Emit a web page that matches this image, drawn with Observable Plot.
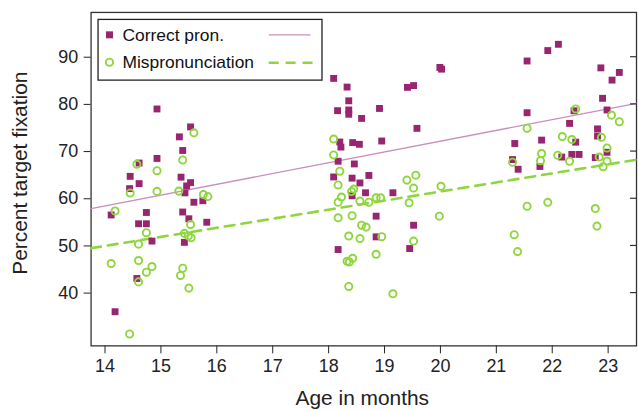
<!DOCTYPE html>
<html><head><meta charset="utf-8">
<script src="https://cdn.jsdelivr.net/npm/d3@7"></script>
<script src="https://cdn.jsdelivr.net/npm/@observablehq/plot@0.6"></script>
<style>
html,body{margin:0;padding:0;background:#fff;overflow:hidden;}
#chart{position:relative;width:639px;height:412px;overflow:hidden;}
</style></head><body><div id="chart"></div>
<script>
// Correct pronunciation (purple squares)
const correctAge = [14.93,15.53,15.33,15.39,14.61,14.93,14.45,14.61,14.44,15.36,15.53,15.46,15.43,15.59,15.75,14.11,14.74,15.39,15.50,14.60,14.74,15.82,14.84,15.42,14.57,14.18,
  18.09,18.33,18.36,18.16,18.36,18.36,18.59,18.91,19.41,19.52,19.99,20.02,19.58,18.20,18.22,18.43,18.55,18.95,18.17,18.46,18.09,18.42,18.72,18.56,18.42,18.66,19.15,18.85,19.52,18.85,18.17,19.45,
  22.11,21.92,21.55,22.87,23.20,23.07,22.90,22.98,21.55,22.39,22.31,22.81,22.81,21.81,22.42,21.33,22.98,21.29,21.39,21.78,22.17,22.35,22.48,22.77];
const correctPct = [79.03,75.23,73.12,70.23,67.57,68.54,64.75,63.21,62.15,64.58,63.42,62.72,61.25,59.26,59.58,56.56,57.09,57.19,55.76,54.70,54.70,55.02,51.03,50.76,43.10,36.06,
  85.51,83.67,80.76,78.67,78.82,77.91,77.03,79.14,83.61,83.99,87.83,87.47,74.92,72.03,70.95,71.90,71.54,72.24,67.95,67.38,64.62,64.37,64.94,63.35,60.63,61.27,61.27,56.31,54.39,51.92,49.24,49.45,
  92.74,91.41,89.20,87.74,86.77,85.15,81.29,78.82,78.23,78.65,75.97,74.81,73.29,72.43,72.00,71.71,69.85,68.31,66.25,66.84,68.84,69.39,69.39,68.73];
// Mispronunciation (green open circles)
const misAge = [15.59,15.39,14.57,14.93,14.45,14.93,15.32,15.76,15.84,14.18,15.53,14.74,15.42,15.49,15.54,14.60,14.11,14.60,14.84,14.74,14.60,15.39,15.35,15.50,14.44,
  18.09,18.09,18.20,19.56,19.40,18.17,18.45,18.41,19.52,20.01,18.23,18.17,18.56,18.72,18.85,18.93,19.44,18.17,18.42,18.59,18.67,18.36,18.56,18.95,19.52,19.98,18.33,18.37,18.43,18.85,18.36,19.15,
  22.42,23.06,23.20,21.55,22.18,22.35,22.88,22.98,21.81,22.10,21.79,22.31,21.29,22.84,22.98,22.91,21.55,21.92,22.77,22.80,21.32,21.38];
const misPct = [73.97,68.23,67.30,65.95,61.20,61.56,61.62,60.89,60.46,57.41,54.56,52.81,52.66,52.13,51.75,50.38,46.27,46.90,45.63,44.43,42.38,45.27,43.74,41.06,31.35,
  72.66,69.28,65.84,65.00,63.95,62.93,62.05,61.52,62.26,62.64,60.36,59.26,59.51,59.26,60.21,60.21,59.14,55.97,56.41,54.39,53.99,52.09,51.56,51.96,51.03,56.31,46.75,46.58,47.38,48.23,41.41,39.85,
  79.03,77.72,76.33,74.96,73.19,72.55,73.02,70.76,69.58,69.22,68.06,67.95,67.74,68.84,68.00,66.79,58.42,59.24,57.93,54.20,52.38,48.80];
// Fitted lines (at the plot edges)
const fitAge = [13.75, 23.51];
const correctFit = [57.91, 80.24];
const misFit = [49.52, 68.28];
const xTicks = [14,15,16,17,18,19,20,21,22,23];
const yTicks = [40,50,60,70,80,90];
const seriesLabels = ["Correct pron.", "Mispronunciation"];
const xTitle = "Age in months";
const yTitle = "Percent target fixation";

const purple = "#982570", green = "#8fd63e", linePurple = "#c98fbb";
const font = "'Liberation Sans', Arial, Helvetica, sans-serif";

const correct = correctAge.map((a, i) => ({age: a, pct: correctPct[i]}));
const mis = misAge.map((a, i) => ({age: a, pct: misPct[i]}));
const fitC = fitAge.map((a, i) => ({age: a, pct: correctFit[i]}));
const fitM = fitAge.map((a, i) => ({age: a, pct: misFit[i]}));

const plot = Plot.plot({
  width: 642, height: 412,
  marginLeft: 91, marginRight: 3, marginTop: 12, marginBottom: 65,
  style: {fontFamily: font, fontSize: "18px", color: "#222", background: "#fff", overflow: "visible"},
  x: {domain: [13.7508, 23.5074], ticks: xTicks, tickSize: 8, tickPadding: 5, label: null},
  y: {domain: [28.82, 99.49], ticks: yTicks, tickSize: 7, tickPadding: 6, label: null},
  marks: [
    Plot.frame({stroke: "#333", strokeWidth: 1.3}),
    Plot.line(fitC, {x: "age", y: "pct", stroke: linePurple, strokeWidth: 1.3}),
    Plot.line(fitM, {x: "age", y: "pct", stroke: green, strokeWidth: 2.6, strokeDasharray: "10,7"}),
    Plot.dot(correct, {x: "age", y: "pct", symbol: "square", r: 3.9, fill: purple, stroke: "none"}),
    Plot.dot(mis, {x: "age", y: "pct", r: 3.6, stroke: green, strokeWidth: 1.9, fill: "none"})
  ]
});

const svg = d3.select(plot);
const ys = plot.scale("y");
// right-side ticks
svg.append("g").selectAll("line").data(yTicks).join("line")
  .attr("x1", 633).attr("x2", 640)
  .attr("y1", d => ys.apply(d)).attr("y2", d => ys.apply(d))
  .attr("stroke", "#333").attr("stroke-width", 1.2);

// axis titles
svg.append("text").text(xTitle)
  .attr("x", 364).attr("y", 407).attr("text-anchor", "middle")
  .attr("font-family", font).attr("font-size", 21).attr("fill", "#222");
svg.append("text").text(yTitle)
  .attr("transform", "translate(27,174) rotate(-90)").attr("text-anchor", "middle")
  .attr("font-family", font).attr("font-size", 21).attr("fill", "#222");

// legend
const lg = svg.append("g");
lg.append("rect").attr("x", 98.5).attr("y", 19.5).attr("width", 225).attr("height", 61)
  .attr("fill", "#fff").attr("stroke", "#222").attr("stroke-width", 1.3);
lg.append("rect").attr("x", 106.5).attr("y", 31.5).attr("width", 7).attr("height", 7).attr("fill", purple);
lg.append("circle").attr("cx", 110).attr("cy", 62.5).attr("r", 3.6)
  .attr("fill", "none").attr("stroke", green).attr("stroke-width", 1.9);
lg.append("text").text(seriesLabels[0]).attr("x", 123).attr("y", 41.5).attr("text-anchor", "start")
  .attr("font-family", font).attr("font-size", 17.5).attr("fill", "#111");
lg.append("text").text(seriesLabels[1]).attr("x", 123).attr("y", 68.5).attr("text-anchor", "start")
  .attr("font-family", font).attr("font-size", 17.5).attr("fill", "#111");
lg.append("line").attr("x1", 270).attr("x2", 312).attr("y1", 35).attr("y2", 35)
  .attr("stroke", linePurple).attr("stroke-width", 1.3);
lg.append("line").attr("x1", 270).attr("x2", 316).attr("y1", 63).attr("y2", 63)
  .attr("stroke", green).attr("stroke-width", 2.6).attr("stroke-dasharray", "10,7");

document.getElementById("chart").appendChild(plot);
</script></body></html>
